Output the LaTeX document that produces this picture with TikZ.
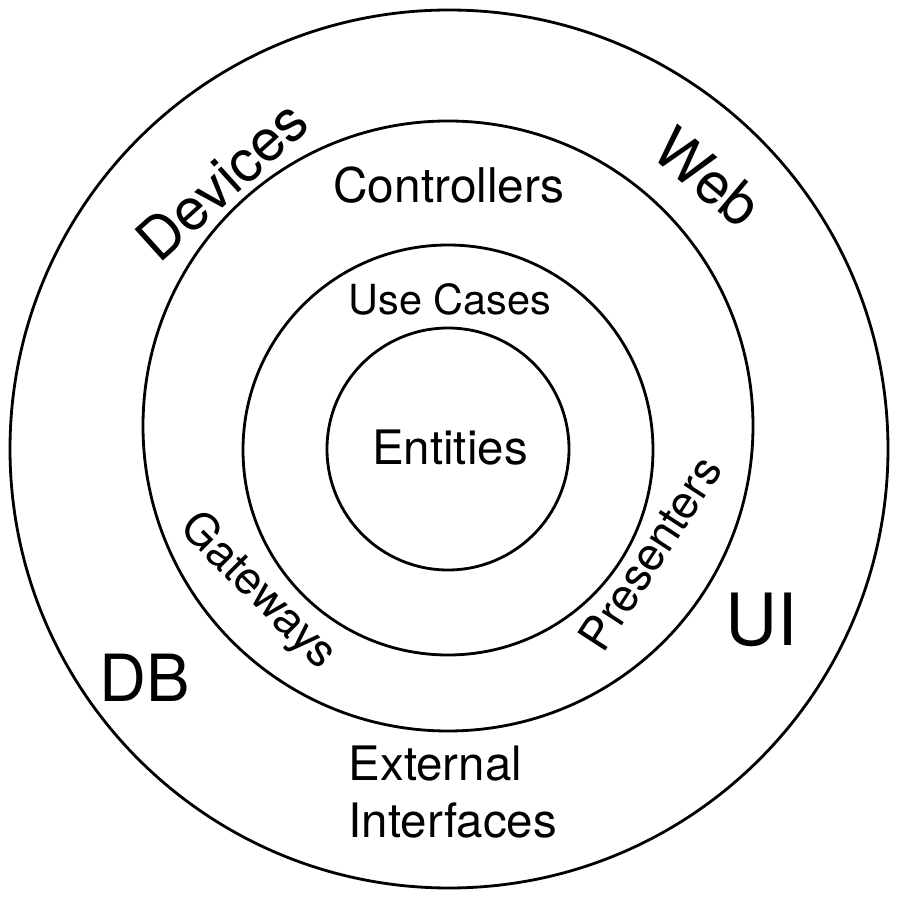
\documentclass[tikz,border=0pt]{standalone}
\usepackage{fontspec}
\setmainfont{TeX Gyre Heros}

\begin{document}
\begin{tikzpicture}[ring/.style={line width=0.8pt},
    lbl/.style={inner sep=0pt}]
  \useasboundingbox (0,0) rectangle (9,9);
  % ring centres
  \coordinate (outer) at (4.49,4.51);
  \coordinate (mid) at (4.48,4.74);
  \coordinate (inner) at (4.48,4.50);
  \coordinate (core) at (4.48,4.51);
  \draw[ring] (outer) circle (4.39);
  \draw[ring] (mid) circle (3.05);
  \draw[ring] (inner) circle (2.05);
  \draw[ring] (core) circle (1.21);
  % ring labels
  \node[lbl,anchor=base,font=\fontsize{13.6}{16}\selectfont] (ctrl) at (4.49,6.97) {Controllers};
  \node[lbl,anchor=base,font=\fontsize{11.8}{14}\selectfont] (uc) at (4.50,5.85) {Use Cases};
  \node[lbl,anchor=base,font=\fontsize{13.5}{16}\selectfont] (ent) at (4.50,4.35) {Entities};
  \node[lbl,anchor=north west,align=left,font=\fontsize{13.5}{16.2}\selectfont] (ext) at (3.48,1.55) {External\\Interfaces};
  \node[lbl,anchor=base,font=\fontsize{18.5}{22}\selectfont] (db) at (1.45,1.98) {DB};
  \node[lbl,anchor=base,font=\fontsize{20.5}{24}\selectfont] (ui) at (7.62,2.55) {UI};
  \node[lbl,rotate=42,font=\fontsize{16.5}{20}\selectfont] (dev) at (2.22,7.20) {Devices};
  \node[lbl,rotate=-40,font=\fontsize{16.5}{20}\selectfont] (web) at (7.08,7.23) {Web};
  \node[lbl,rotate=-45,font=\fontsize{13}{16}\selectfont] (gw) at (2.58,3.08) {Gateways};
  \node[lbl,rotate=57,font=\fontsize{13}{16}\selectfont] (pres) at (6.50,3.47) {Presenters};
\end{tikzpicture}
\end{document}
